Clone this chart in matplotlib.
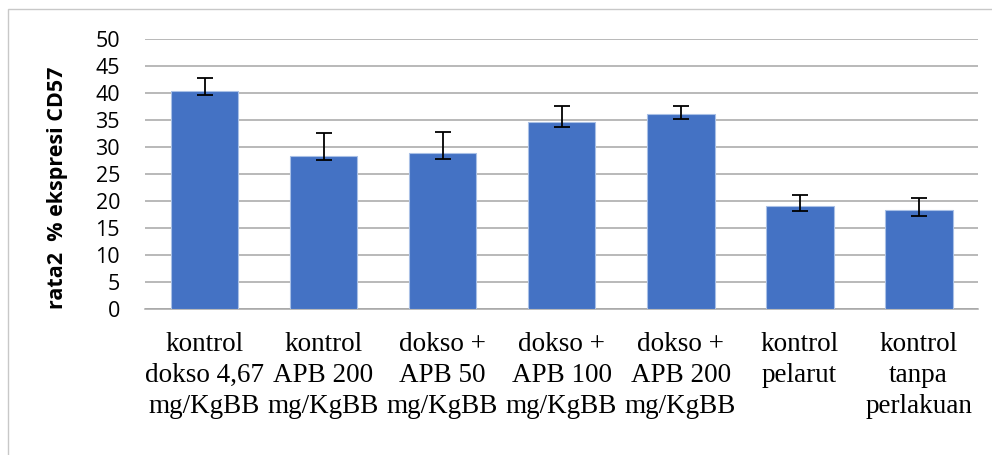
import matplotlib
matplotlib.use('Agg')
import matplotlib.pyplot as plt
from matplotlib.patches import Rectangle
import numpy as np

categories = ['kontrol\ndokso 4,67\nmg/KgBB', 'kontrol\nAPB 200\nmg/KgBB', 'dokso +\nAPB 50\nmg/KgBB',
              'dokso +\nAPB 100\nmg/KgBB', 'dokso +\nAPB 200\nmg/KgBB', 'kontrol\npelarut',
              'kontrol\ntanpa\nperlakuan']
values = [40.5, 28.4, 29.0, 34.6, 36.1, 19.2, 18.3]
err_minus = [0.9, 0.8, 1.1, 0.9, 0.9, 1.0, 1.0]
err_plus = [2.4, 4.3, 3.9, 3.1, 1.6, 1.9, 2.3]
yticks = np.arange(0, 51, 5)

fig = plt.figure(figsize=(9.92, 4.55), dpi=100)
ax = fig.add_axes([0.1462, 0.3202, 0.986 - 0.1462, 0.9136 - 0.3202])

# outer chart frame (right/bottom edges fall outside the picture)
fig.patches.append(Rectangle((8 / 992, -0.1), 1.1, 1 - 9 / 455 + 0.1, transform=fig.transFigure,
                             fill=False, edgecolor='#c8c8c8', linewidth=1.0))

x = np.arange(len(categories))
ax.bar(x, values, width=0.57, color='#4472C4', edgecolor='#a9c0e6', linewidth=0.8, zorder=3)
ax.errorbar(x, values, yerr=[err_minus, err_plus], fmt='none', ecolor='black',
            elinewidth=1.3, capsize=6, capthick=1.3, zorder=4)

ax.set_xlim(-0.5, len(categories) - 0.5)
ax.set_ylim(0, 50)
ax.set_yticks(yticks)
ax.set_yticklabels([str(t) for t in yticks], fontfamily='Open Sans', fontsize=15.5)
ax.tick_params(axis='y', length=0, pad=18)
ax.set_xticks(x)
ax.set_xticklabels(categories, fontfamily='Liberation Serif', fontsize=19.5, linespacing=1.32)
ax.tick_params(axis='x', length=0, pad=16)

ax.yaxis.grid(True, color='#a6a6a6', linewidth=1.1, zorder=0)
ax.set_axisbelow(True)
for side in ['top', 'right', 'left']:
    ax.spines[side].set_visible(False)
ax.spines['bottom'].set_color('#a6a6a6')
ax.spines['bottom'].set_linewidth(1.1)

fig.text(58 / 992, 1 - 188 / 455, 'rata2  % ekspresi CD57', rotation=90, ha='center', va='center',
         fontfamily='Open Sans', fontweight='bold', fontsize=15.5)

fig.savefig('out.png', dpi=100)
